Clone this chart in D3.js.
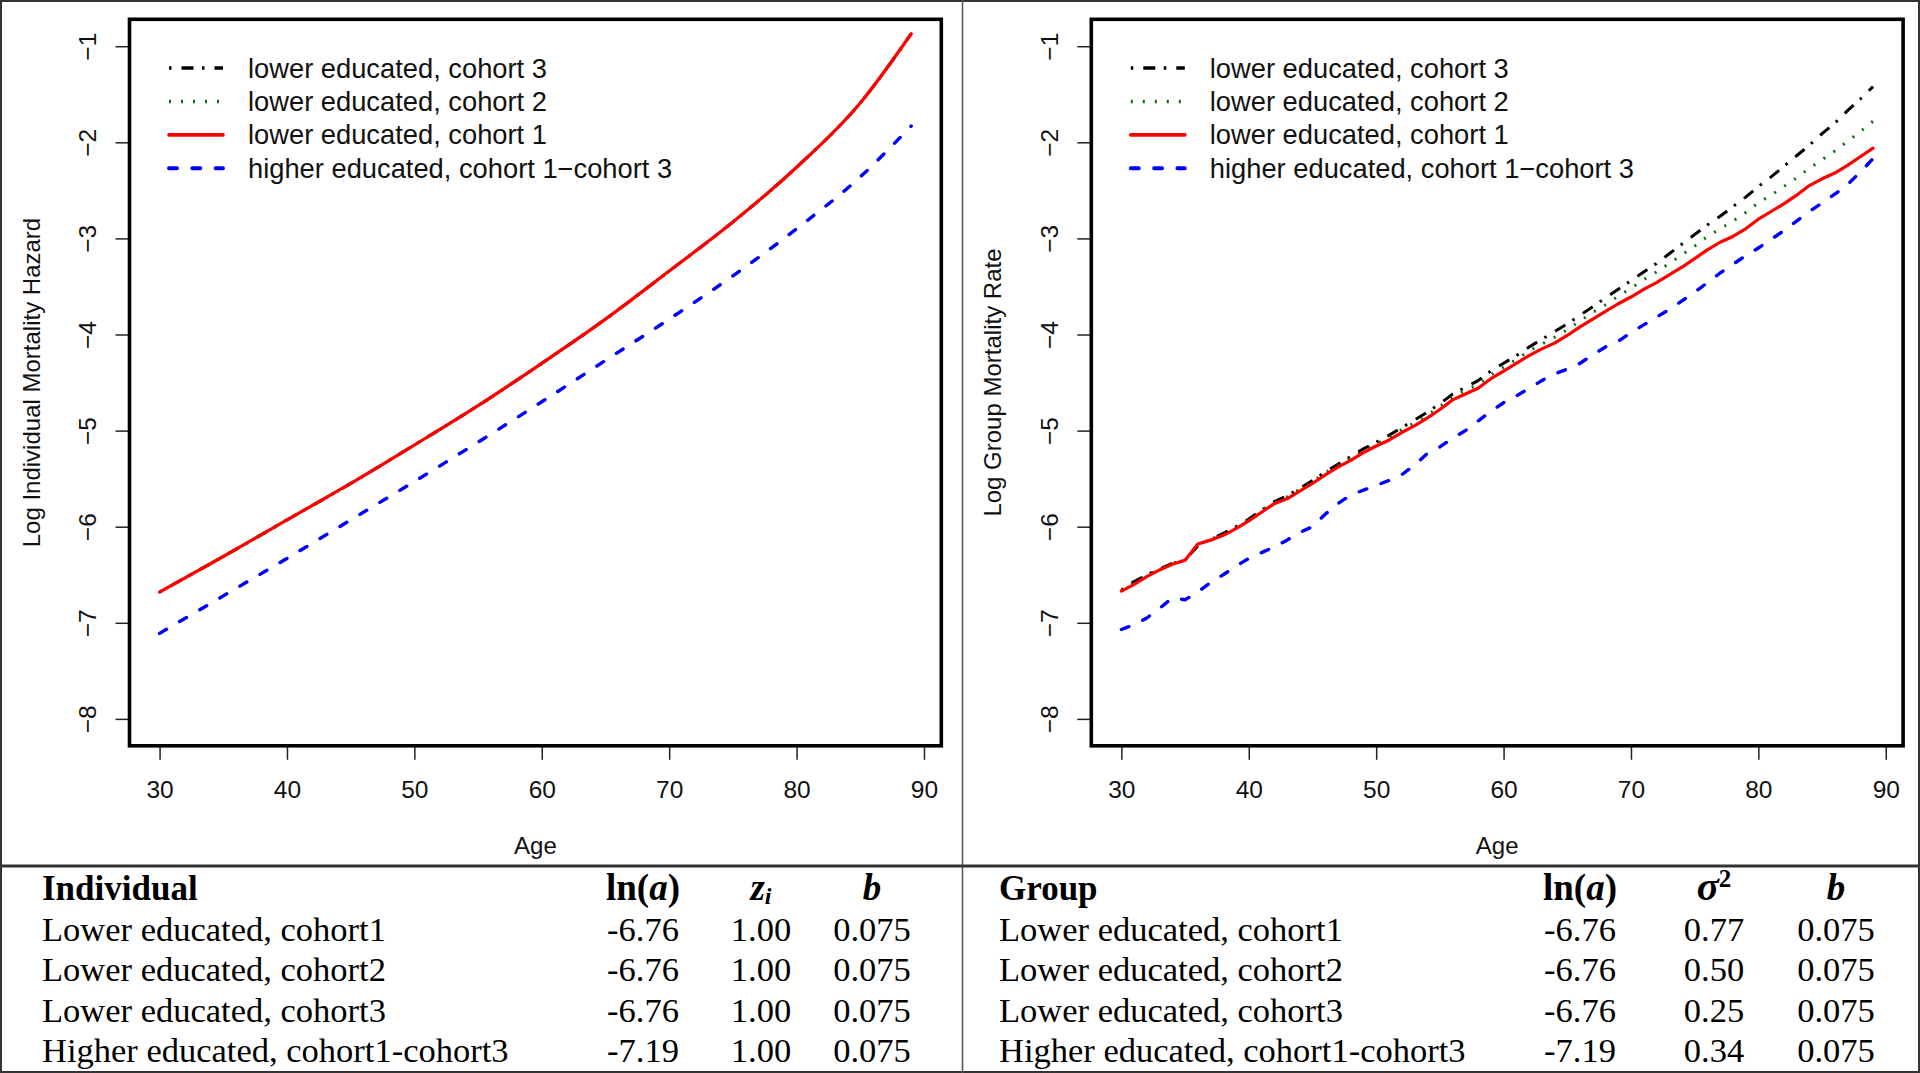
<!DOCTYPE html>
<html><head><meta charset="utf-8">
<script src="https://cdn.jsdelivr.net/npm/d3@7"></script>
<style>
html,body{margin:0;padding:0;background:#fff;}
svg{display:block;}
</style></head>
<body>
<svg id="chart" width="1920" height="1073"></svg>
<script>
// ---------------- DATA ----------------
const xTicks = [30,40,50,60,70,80,90];
const yTicks = [-1,-2,-3,-4,-5,-6,-7,-8];
const legendLabels = ["lower educated, cohort 3","lower educated, cohort 2","lower educated, cohort 1","higher educated, cohort 1\u2212cohort 3"];

// Left panel: log individual mortality hazard
const agesIndividual = [30,35,40,45,50,55,60,65,70,75,80,85,89];
const indivLowerCohort3 = [-6.68,-6.31,-5.93,-5.55,-5.15,-4.74,-4.30,-3.84,-3.34,-2.83,-2.26,-1.59,-0.87];
const indivLowerCohort2 = [-6.68,-6.31,-5.93,-5.55,-5.15,-4.74,-4.30,-3.84,-3.34,-2.83,-2.26,-1.59,-0.87];
const indivLowerCohort1 = [-6.68,-6.31,-5.93,-5.55,-5.15,-4.74,-4.30,-3.84,-3.34,-2.83,-2.26,-1.59,-0.87];
const indivHigher       = [-7.11,-6.72,-6.33,-5.93,-5.53,-5.12,-4.70,-4.27,-3.84,-3.39,-2.90,-2.36,-1.83];

// Right panel: log group mortality rate
const agesGroup = [30,31,32,33,34,35,36,37,38,39,40,41,42,43,44,45,46,47,48,49,50,51,52,53,54,55,56,57,58,59,60,61,62,63,64,65,66,67,68,69,70,71,72,73,74,75,76,77,78,79,80,81,82,83,84,85,86,87,88,89];
const groupLowerCohort3 = [-6.66,-6.57,-6.50,-6.44,-6.38,-6.35,-6.20,-6.13,-6.07,-6.00,-5.92,-5.83,-5.74,-5.68,-5.60,-5.52,-5.43,-5.35,-5.27,-5.19,-5.12,-5.05,-4.97,-4.89,-4.81,-4.72,-4.62,-4.55,-4.48,-4.38,-4.30,-4.22,-4.13,-4.05,-3.97,-3.89,-3.80,-3.71,-3.62,-3.53,-3.44,-3.35,-3.26,-3.16,-3.06,-2.96,-2.86,-2.77,-2.67,-2.57,-2.46,-2.36,-2.25,-2.14,-2.03,-1.91,-1.80,-1.67,-1.55,-1.42];
const groupLowerCohort2 = [-6.67,-6.58,-6.51,-6.44,-6.38,-6.35,-6.19,-6.13,-6.08,-6.01,-5.93,-5.84,-5.75,-5.69,-5.61,-5.53,-5.44,-5.36,-5.29,-5.21,-5.14,-5.07,-4.99,-4.92,-4.84,-4.75,-4.65,-4.58,-4.52,-4.42,-4.34,-4.26,-4.17,-4.10,-4.03,-3.95,-3.86,-3.77,-3.69,-3.60,-3.52,-3.43,-3.35,-3.26,-3.17,-3.08,-2.98,-2.90,-2.82,-2.73,-2.63,-2.55,-2.46,-2.37,-2.27,-2.18,-2.09,-1.99,-1.89,-1.78];
const groupLowerCohort1 = [-6.67,-6.60,-6.52,-6.45,-6.39,-6.35,-6.18,-6.14,-6.09,-6.02,-5.94,-5.85,-5.76,-5.71,-5.63,-5.55,-5.46,-5.38,-5.31,-5.23,-5.16,-5.10,-5.02,-4.95,-4.87,-4.78,-4.68,-4.62,-4.56,-4.46,-4.38,-4.30,-4.22,-4.15,-4.09,-4.01,-3.92,-3.84,-3.76,-3.68,-3.61,-3.53,-3.46,-3.38,-3.30,-3.21,-3.12,-3.04,-2.98,-2.90,-2.80,-2.72,-2.64,-2.55,-2.45,-2.38,-2.32,-2.24,-2.15,-2.06];
const groupHigher       = [-7.07,-7.02,-6.95,-6.85,-6.74,-6.76,-6.68,-6.58,-6.50,-6.41,-6.33,-6.27,-6.21,-6.14,-6.06,-6.00,-5.87,-5.76,-5.67,-5.62,-5.57,-5.52,-5.46,-5.36,-5.24,-5.17,-5.08,-5.00,-4.90,-4.80,-4.71,-4.64,-4.56,-4.48,-4.41,-4.36,-4.30,-4.21,-4.13,-4.07,-3.98,-3.90,-3.82,-3.74,-3.65,-3.56,-3.46,-3.36,-3.27,-3.18,-3.10,-3.01,-2.92,-2.82,-2.72,-2.63,-2.54,-2.44,-2.31,-2.17];

// Tables
const tableRowLabels = ["Lower educated, cohort1","Lower educated, cohort2","Lower educated, cohort3","Higher educated, cohort1-cohort3"];
const individualLnA = ["-6.76","-6.76","-6.76","-7.19"];
const individualZ   = ["1.00","1.00","1.00","1.00"];
const individualB   = ["0.075","0.075","0.075","0.075"];
const groupLnA      = ["-6.76","-6.76","-6.76","-7.19"];
const groupSigma2   = ["0.77","0.50","0.25","0.34"];
const groupB        = ["0.075","0.075","0.075","0.075"];

// ---------------- STYLE ----------------
const seriesStyle = [
  {color:"#000000", dash:"2.5,10,12,8.5", width:3, cap:"butt"},     // cohort 3 dot-dash
  {color:"#0b6b0b", dash:"2,10", width:3, cap:"butt"},             // cohort 2 dotted
  {color:"#ff0000", dash:null, width:3.2, cap:"round"},            // cohort 1 solid
  {color:"#0000ff", dash:"8,15.3", width:3.4, cap:"round"}          // higher dashed
];
const PLOT_FONT = "'Liberation Sans', Arial, sans-serif";
const TABLE_FONT = "'Liberation Serif', 'Times New Roman', serif";

const svg = d3.select("#chart");
svg.append("rect").attr("x",0).attr("y",0).attr("width",1920).attr("height",1073).attr("fill","#fff");

const panels = [
  {dx:0, title:"Log Individual Mortality Hazard", ages:agesIndividual,
   series:[indivLowerCohort3, indivLowerCohort2, indivLowerCohort1, indivHigher], curve:d3.curveMonotoneX},
  {dx:961.8, title:"Log Group Mortality Rate", ages:agesGroup,
   series:[groupLowerCohort3, groupLowerCohort2, groupLowerCohort1, groupHigher], curve:d3.curveLinear}
];

const box = {l:129.5, t:19.3, r:941.3, b:745.8};

panels.forEach(p => {
  const g = svg.append("g").attr("transform", `translate(${p.dx},0)`);
  const x = d3.scaleLinear().domain([27.64, 91.36]).range([box.l, box.r]);
  const y = d3.scaleLinear().domain([-8.28, -0.72]).range([box.b, box.t]);

  // lines
  p.series.forEach((vals, i) => {
    const st = seriesStyle[i];
    const pts = p.ages.map((a, k) => [a, vals[k]]);
    const line = d3.line().x(d => x(d[0])).y(d => y(d[1])).curve(p.curve);
    g.append("path").attr("d", line(pts)).attr("fill","none")
      .attr("stroke", st.color).attr("stroke-width", st.width)
      .attr("stroke-linecap", st.cap).attr("stroke-linejoin","round")
      .attr("stroke-dasharray", st.dash);
  });

  // axes
  const ax = g.append("g").attr("transform", `translate(0,${box.b})`)
    .call(d3.axisBottom(x).tickValues(xTicks).tickSize(14).tickFormat(d3.format("d")));
  ax.select(".domain").remove();
  ax.selectAll(".tick line").attr("stroke","#222").attr("stroke-width",1.5);
  ax.selectAll(".tick text").attr("y",52.5).attr("dy",null)
    .attr("font-family",PLOT_FONT).attr("font-size",24.5).attr("fill","#111");

  const ay = g.append("g").attr("transform", `translate(${box.l},0)`)
    .call(d3.axisLeft(y).tickValues(yTicks).tickSize(14).tickFormat(d => "\u2212" + Math.abs(d)));
  ay.select(".domain").remove();
  ay.selectAll(".tick line").attr("stroke","#222").attr("stroke-width",1.5);
  ay.selectAll(".tick text").attr("x",null).attr("dy",null)
    .attr("transform","translate(-33.5,0) rotate(-90)").attr("text-anchor","middle")
    .attr("font-family",PLOT_FONT).attr("font-size",24.5).attr("fill","#111");

  // box
  g.append("rect").attr("x",box.l).attr("y",box.t).attr("width",box.r-box.l).attr("height",box.b-box.t)
    .attr("fill","none").attr("stroke","#000").attr("stroke-width",3.6);

  // axis titles
  g.append("text").attr("x",(box.l+box.r)/2).attr("y",853.5).attr("text-anchor","middle")
    .attr("font-family",PLOT_FONT).attr("font-size",24).attr("fill","#111").text("Age");
  g.append("text").attr("transform",`translate(39.5,${(box.t+box.b)/2}) rotate(-90)`).attr("text-anchor","middle")
    .attr("font-family",PLOT_FONT).attr("font-size",24).attr("fill","#111").text(p.title);

  // legend
  legendLabels.forEach((lab, i) => {
    const st = seriesStyle[i];
    const ry = 68 + i*33.4;
    g.append("line").attr("x1",169).attr("x2",223).attr("y1",ry).attr("y2",ry)
      .attr("stroke",st.color).attr("stroke-width",st.width+0.5)
      .attr("stroke-linecap",st.cap).attr("stroke-dasharray",st.dash);
    g.append("text").attr("x",248).attr("y",ry+9.6)
      .attr("font-family",PLOT_FONT).attr("font-size",27.3).attr("fill","#111").text(lab);
  });
});

// ---------------- FRAMES ----------------
svg.append("rect").attr("x",1).attr("y",1).attr("width",1918).attr("height",1071)
  .attr("fill","none").attr("stroke","#333").attr("stroke-width",2);
svg.append("line").attr("x1",962.5).attr("x2",962.5).attr("y1",0).attr("y2",1073)
  .attr("stroke","#555").attr("stroke-width",1.5);
svg.append("line").attr("x1",0).attr("x2",1920).attr("y1",866).attr("y2",866)
  .attr("stroke","#333").attr("stroke-width",3);

// ---------------- TABLES ----------------
const rowBase = [940.5, 981, 1021.5, 1062];
const headerBase = 900;
function table(dx, title, colX, cols, mid) {
  const g = svg.append("g").attr("transform",`translate(${dx},0)`);
  g.append("text").attr("x",42).attr("y",headerBase).attr("font-family",TABLE_FONT)
    .attr("font-weight","bold").attr("font-size",35).attr("fill","#000").text(title);
  // ln(a)
  const h1 = g.append("text").attr("x",colX[0]).attr("y",headerBase).attr("text-anchor","middle")
    .attr("font-family",TABLE_FONT).attr("font-weight","bold").attr("font-size",37).attr("fill","#000");
  h1.append("tspan").text("ln(");
  h1.append("tspan").attr("font-style","italic").text("a");
  h1.append("tspan").text(")");
  // middle column
  const h2 = g.append("text").attr("x",colX[1]).attr("y",headerBase).attr("text-anchor","middle")
    .attr("font-family",TABLE_FONT).attr("font-weight","bold").attr("font-style","italic").attr("font-size",37).attr("fill","#000");
  if (mid === "z") {
    h2.append("tspan").text("z");
    h2.append("tspan").attr("font-size",24).attr("dy",4).text("i");
  } else {
    h2.append("tspan").attr("font-size",41).text("\u03C3");
    h2.append("tspan").attr("font-size",25).attr("dy",-13).attr("font-style","normal").text("2");
  }
  g.append("text").attr("x",colX[2]).attr("y",headerBase).attr("text-anchor","middle")
    .attr("font-family",TABLE_FONT).attr("font-weight","bold").attr("font-style","italic").attr("font-size",37).attr("fill","#000").text("b");

  tableRowLabels.forEach((lab, i) => {
    g.append("text").attr("x",42).attr("y",rowBase[i]).attr("font-family",TABLE_FONT)
      .attr("font-size",34.5).attr("fill","#000").text(lab);
    cols.forEach((col, c) => {
      g.append("text").attr("x",colX[c]).attr("y",rowBase[i]).attr("text-anchor","middle")
        .attr("font-family",TABLE_FONT).attr("font-size",34.5).attr("fill","#000").text(col[i]);
    });
  });
}
table(0, "Individual", [643, 761, 872], [individualLnA, individualZ, individualB], "z");
table(957, "Group", [623, 757, 879], [groupLnA, groupSigma2, groupB], "s");
</script>
</body></html>
